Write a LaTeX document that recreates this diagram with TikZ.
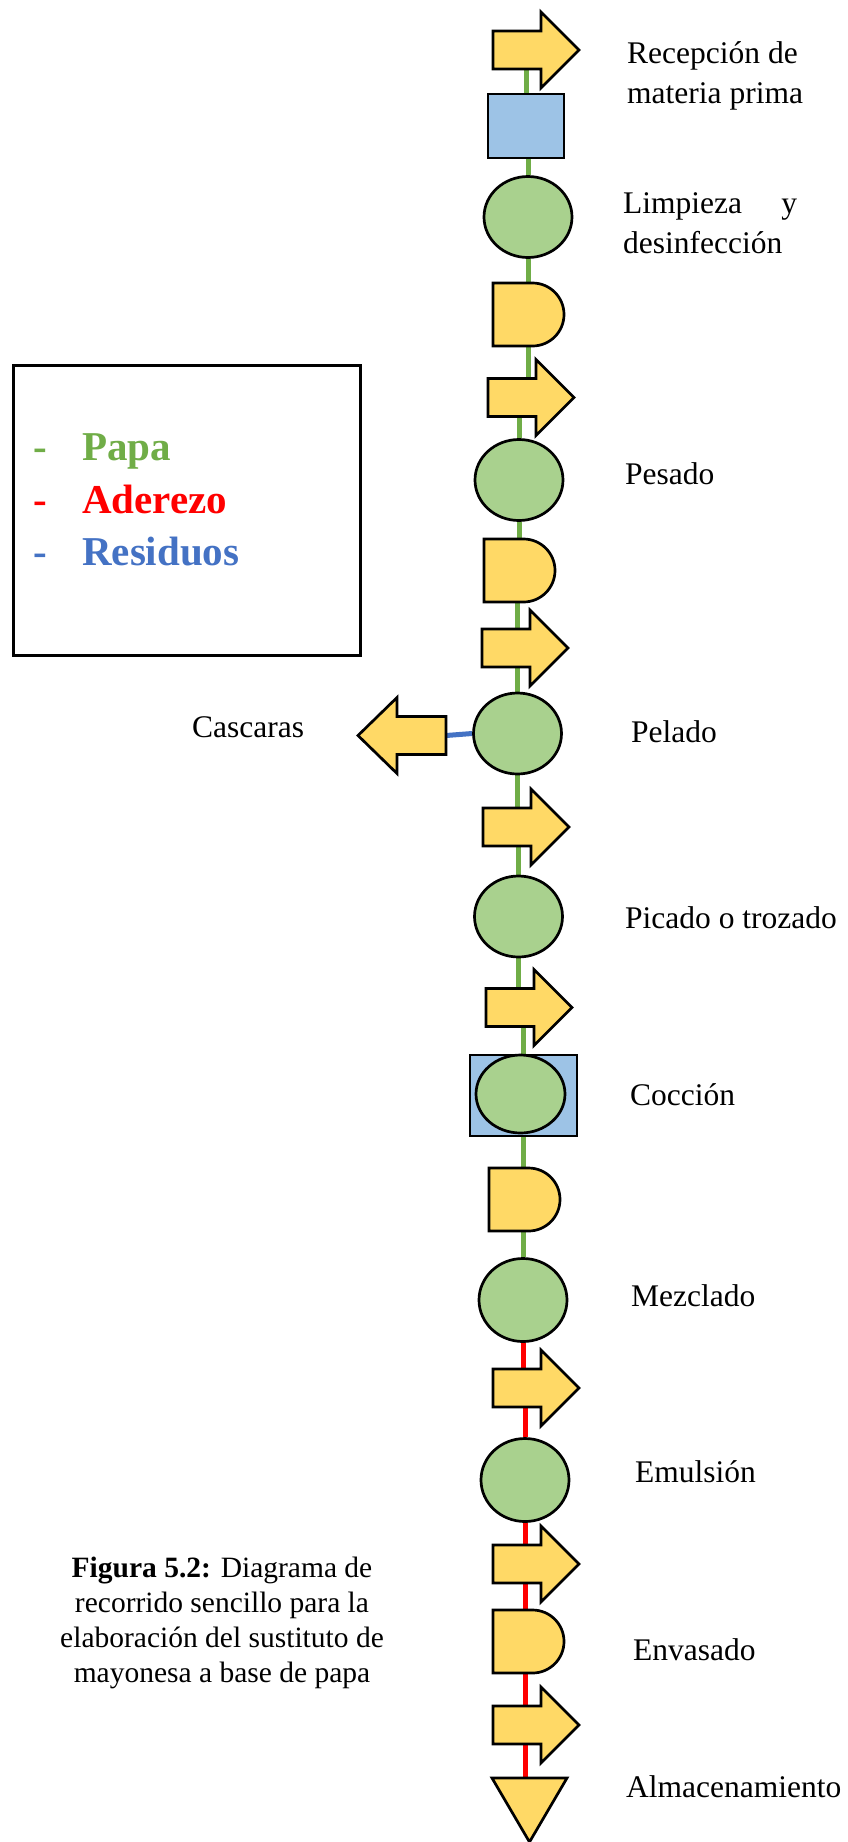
\documentclass[tikz,border=0pt]{standalone}
\usepackage{fontspec}
\setmainfont{Liberation Serif}
\usetikzlibrary{shapes.geometric,calc}
\pgfdeclarelayer{background}
\pgfsetlayers{background,main}
\definecolor{yfill}{HTML}{FFD966}
\definecolor{gfill}{HTML}{A9D18E}
\definecolor{bfill}{HTML}{9DC3E6}
\definecolor{lgreen}{HTML}{70AD47}
\definecolor{lred}{HTML}{FF0000}
\definecolor{lblue}{HTML}{4472C4}
\tikzset{
  ghost/.style={rectangle, inner sep=0pt, outer sep=0pt, draw=none},
  yshape/.style={draw=black, fill=yfill, line width=2.7pt, line join=miter},
  opcircle/.style={ellipse, draw=black, fill=gfill, line width=2.7pt, inner sep=0pt, minimum width=88pt, minimum height=81pt},
  insbox/.style={rectangle, draw=black, fill=bfill, line width=2.2pt, inner sep=0pt},
  gline/.style={draw=lgreen, line width=5pt},
  rline/.style={draw=lred, line width=5pt},
  bline/.style={draw=lblue, line width=5pt},
  lbl/.style={font=\fontsize{31.5pt}{40pt}\selectfont, inner sep=0pt, anchor=base west, align=flush left},
  leg/.style={font=\fontsize{41pt}{50pt}\selectfont\bfseries, inner sep=0pt, anchor=base west},
}
\newcommand\rarr[3]{%
  \node[ghost, minimum width=48pt, minimum height=38pt, anchor=west] (#1) at (#2,#3) {};
  \draw[yshape] (#1.north west) -- (#1.north east) -- ([yshift=19pt]#1.north east)
    -- ([xshift=38pt]#1.east) -- ([yshift=-19pt]#1.south east) -- (#1.south east)
    -- (#1.south west) -- cycle;
}
\newcommand\dshp[3]{%
  \node[ghost, minimum width=71pt, minimum height=63pt, anchor=north west] (#1) at (#2,#3) {};
  \draw[yshape] (#1.north west) -- ([xshift=-31.5pt]#1.north east)
    arc[start angle=90, end angle=-90, radius=31.5pt] -- (#1.south west) -- cycle;
}
\begin{document}
\begin{tikzpicture}[x=1pt, y=-1pt]
\useasboundingbox (0,0) rectangle (847,1842);
\begin{pgfonlayer}{background}
\fill[white] (0,0) rectangle (847,1842);
\end{pgfonlayer}

% column of symbols
\rarr{A1}{493}{50}
\node[insbox, minimum width=76pt, minimum height=64pt] (S1) at (526,126) {};
\node[opcircle] (C1) at (528,217) {};
\dshp{D1}{493}{283}
\rarr{A2}{488}{397.5}
\node[opcircle] (C2) at (519,480) {};
\dshp{D2}{484}{539}
\rarr{A3}{482}{648}
\node[opcircle] (C3) at (517.5,733.5) {};
\rarr{A4}{483}{827}
\node[opcircle] (C4) at (518.5,916.5) {};
\rarr{A5}{486}{1007.5}
\node[insbox, minimum width=107pt, minimum height=81pt] (S2) at (523.5,1095.5) {};
\node[opcircle, minimum width=89pt, minimum height=78pt] (C5) at (520.5,1094) {};
\dshp{D3}{489}{1168}
\node[opcircle, minimum height=83pt] (C6) at (523,1300) {};
\rarr{A6}{493}{1388}
\node[opcircle, minimum height=83pt] (C7) at (525,1480) {};
\rarr{A7}{493}{1564}
\dshp{D4}{493}{1610}
\rarr{A8}{493}{1725}
\node[ghost, minimum width=75pt, minimum height=64pt] (T) at (529.5,1810) {};
\draw[yshape] (T.north west) -- (T.north east) -- (T.south) -- cycle;

% left arrow (Cascaras)
\node[ghost, minimum width=49pt, minimum height=38pt, anchor=east] (L) at (446,735.5) {};
\draw[yshape] (L.north east) -- (L.north west) -- ([yshift=19pt]L.north west)
  -- ([xshift=-39pt]L.west) -- ([yshift=-19pt]L.south west) -- (L.south west)
  -- (L.south east) -- cycle;

% connectors
\begin{pgfonlayer}{background}
\draw[gline] (A1.south -| S1.north) -- (S1.north);
\draw[gline] (S1.south -| C1.north) -- (C1.north);
\draw[gline] (C1.south) -- (C1.south |- D1.north);
\draw[gline] (D1.south -| C1.south) -- (A2.north -| C1.south);
\draw[gline] (A2.south -| C2.north) -- (C2.north);
\draw[gline] (C2.south) -- (C2.south |- D2.north);
\draw[gline] (D2.south -| C3.north) -- (A3.north -| C3.north);
\draw[gline] (A3.south -| C3.north) -- (C3.north);
\draw[gline] (C3.south) -- (C3.south |- A4.north);
\draw[gline] (A4.south -| C4.north) -- (C4.north);
\draw[gline] (C4.south) -- (C4.south |- A5.north);
\draw[gline] (A5.south -| S2.north) -- (S2.north);
\draw[gline] (S2.south) -- (S2.south |- D3.north);
\draw[gline] (D3.south -| C6.north) -- (C6.north);
\draw[rline] (C6.south) -- (C6.south |- A6.north);
\draw[rline] (A6.south -| C7.north) -- (C7.north);
\draw[rline] (C7.south) -- (C7.south |- A7.north);
\draw[rline] (A7.south -| C7.south) -- (D4.north -| C7.south);
\draw[rline] (D4.south -| C7.south) -- (A8.north -| C7.south);
\draw[rline] (A8.south -| C7.south) -- (T.north -| C7.south);
\draw[bline] (C3.west) -- (L.east);
\end{pgfonlayer}

% labels
\node[lbl, text width=215pt] (t1) at (627,63) {Recepción de\\materia prima};
\node[lbl, align=left, text width=174pt] (t2) at (623,213) {Limpieza\hfill y\\desinfección};
\node[lbl] (t3) at (625,484) {Pesado};
\node[lbl] (t4) at (631,742) {Pelado};
\node[lbl] (t5) at (625,928) {Picado o trozado};
\node[lbl] (t6) at (630,1105) {Cocción};
\node[lbl] (t7) at (631,1306) {Mezclado};
\node[lbl] (t8) at (635,1482) {Emulsión};
\node[lbl] (t9) at (633,1660) {Envasado};
\node[lbl] (t10) at (626,1797) {Almacenamiento};
\node[lbl] (t11) at (192,737) {Cascaras};

% legend
\node[draw=black, line width=2.5pt, inner sep=0pt, minimum width=347pt, minimum height=290pt, anchor=north west] (legend) at (12,364) {};
\node[leg, text=lgreen] (lg1) at (33,460) {\makebox[49pt][l]{-}Papa};
\node[leg, text=lred] (lg2) at (33,513) {\makebox[49pt][l]{-}Aderezo};
\node[leg, text=lblue] (lg3) at (33,565) {\makebox[49pt][l]{-}Residuos};

% caption
\node[font=\fontsize{29.5pt}{35pt}\selectfont, align=flush center, text width=340pt, inner sep=0pt, anchor=base] (cap) at (222,1577)
  {\textbf{Figura 5.2:} Diagrama de\\recorrido sencillo para la\\elaboración del sustituto de\\mayonesa a base de papa};
\end{tikzpicture}
\end{document}
